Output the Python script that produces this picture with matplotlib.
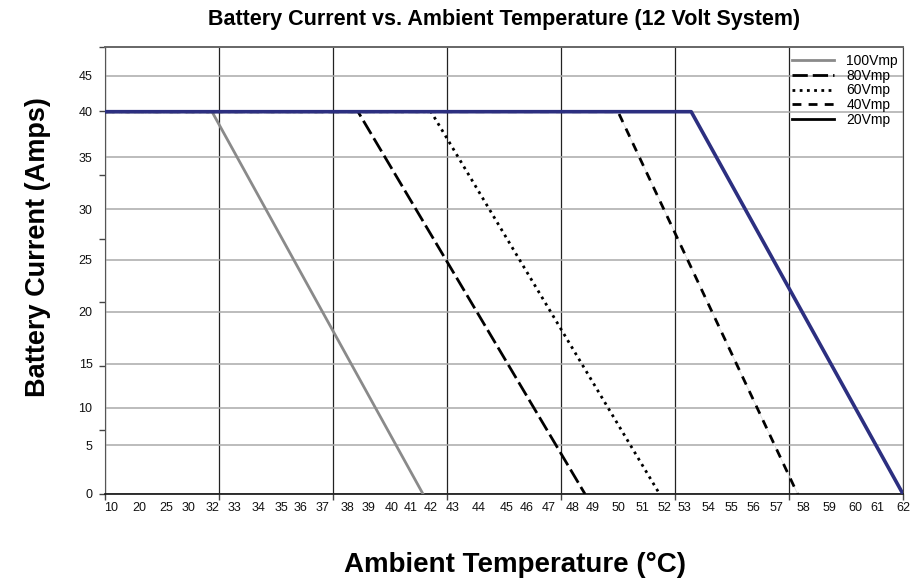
import numpy as np
import matplotlib
matplotlib.use("Agg")
import matplotlib.pyplot as plt
from matplotlib.ticker import FixedLocator, FixedFormatter, NullFormatter
from matplotlib.lines import Line2D

plt.rcParams["font.family"] = ["Liberation Sans", "DejaVu Sans"]

# ── data ─────────────────────────────────────────────────────────────
x_labels = [10, 20, 25, 30, 32, 33, 34, 35, 36, 37, 38, 39, 40, 41, 42, 43,
            44, 45, 46, 47, 48, 49, 50, 51, 52, 53, 54, 55, 56, 57, 58, 59,
            60, 61, 62]
y_labels = [0, 5, 10, 15, 20, 25, 30, 35, 40, 45]

series = ["100Vmp", "80Vmp", "60Vmp", "40Vmp", "20Vmp"]
temp_knee = [32.0, 38.5, 42.0, 50.0, 53.3]   # °C where derating starts
temp_zero = [41.6, 48.6, 51.8, 57.8, 62.0]   # °C where current reaches 0
current_max = 40.0

# ── the original axes are not linear: where each printed label sits ──
# (distance along the axis, in pixels of the original picture)
x_len, y_len = 798.0, 447.0
x_label_at = [6, 34, 61, 84, 107, 129, 153, 176, 195, 218, 242, 264, 287,
              306, 326, 348, 374, 402, 422, 444, 468, 488, 513, 537, 559,
              579, 603, 626, 648, 671, 698, 724, 750, 772, 798]
y_label_at = [0, 49, 86, 130.3, 182, 234, 285, 336.7, 382.3, 418.3]


def piecewise(vals, pos):
    vals = np.asarray(vals, float)
    pos = np.asarray(pos, float)

    def lin(v, a, b):
        v = np.asarray(v, float)
        out = np.interp(v, a, b)
        lo = (b[1] - b[0]) / (a[1] - a[0])
        hi = (b[-1] - b[-2]) / (a[-1] - a[-2])
        out = np.where(v < a[0], b[0] + (v - a[0]) * lo, out)
        out = np.where(v > a[-1], b[-1] + (v - a[-1]) * hi, out)
        return out

    return (lambda v: lin(v, vals, pos)), (lambda p: lin(p, pos, vals))


fx, ix = piecewise(x_labels, x_label_at)
fy, iy = piecewise(y_labels, y_label_at)

fig = plt.figure(figsize=(9.11, 5.79), dpi=100, facecolor="white")
ax = fig.add_axes([105 / 911, 1 - 494 / 579, 798 / 911, 447 / 579])
ax.set_xscale("function", functions=(fx, ix))
ax.set_yscale("function", functions=(fy, iy))

x_lo, x_hi = float(ix(0.0)), float(ix(x_len))
ax.set_xlim(x_lo, x_hi)
ax.set_ylim(float(iy(0.0)), float(iy(y_len)))

styles = [
    dict(color="#8a8a8a", linestyle="-"),
    dict(color="black", linestyle=(0, (5.5, 1.8))),
    dict(color="black", linestyle=(0, (1.0, 1.6))),
    dict(color="black", linestyle=(0, (3.2, 2.6))),
    dict(color="#2c2f80", linestyle="-"),
]

for name, k, z, st in zip(series, temp_knee, temp_zero, styles):
    xs = [x_lo, k, z]
    ys = [current_max, current_max, 0]
    if name == "20Vmp":
        ax.plot(xs, ys, lw=2.6, zorder=5, **st)
        continue
    if name == "40Vmp":
        ax.plot(xs, ys, color="#dddddd", lw=0.6, zorder=3)
    ax.plot(xs, ys, lw=2.0, zorder=4, **st)

# ── ticks, labels and grid ───────────────────────────────────────────
for axis in (ax.xaxis, ax.yaxis):
    axis.remove_overlapping_locs = False

ax.xaxis.set_major_locator(FixedLocator(ix(np.linspace(0, x_len, 8))))
ax.xaxis.set_major_formatter(NullFormatter())
ax.xaxis.set_minor_locator(FixedLocator(x_labels))
ax.xaxis.set_minor_formatter(FixedFormatter([str(v) for v in x_labels]))

ax.yaxis.set_major_locator(FixedLocator(iy(np.linspace(0, y_len, 8))))
ax.yaxis.set_major_formatter(NullFormatter())
ax.yaxis.set_minor_locator(FixedLocator(y_labels))
ax.yaxis.set_minor_formatter(FixedFormatter([str(v) for v in y_labels]))

ax.tick_params(which="major", length=4, width=1, color="#444444", direction="out")
ax.tick_params(which="minor", length=0, labelsize=9, labelcolor="#111111")
ax.tick_params(axis="x", which="minor", pad=6)
ax.tick_params(axis="y", which="minor", pad=9)

ax.grid(True, axis="x", which="major", color="#222222", lw=0.9, zorder=1)
ax.grid(True, axis="y", which="minor", color="#aaaaaa", lw=1.1, zorder=1)
ax.set_axisbelow(True)

ax.spines["left"].set_color("#555555")
ax.spines["bottom"].set_color("#111111")
ax.spines["bottom"].set_linewidth(1.2)
ax.spines["top"].set_color("#666666")
ax.spines["top"].set_linewidth(1.4)
ax.spines["right"].set_color("#444444")

# ── legend (no frame, gridlines run through it) ──────────────────────
handles = [Line2D([], [], lw=2.0, **st) for st in styles[:4]]
handles.append(Line2D([], [], lw=2.0, color="black"))
leg = ax.legend(handles, series, loc="upper right",
                bbox_to_anchor=((898 - 105) / x_len, 1 - 7 / y_len),
                frameon=False, fontsize=10, borderpad=0, borderaxespad=0,
                handlelength=3.0, handletextpad=0.9, labelspacing=0.05)

# ── titles ───────────────────────────────────────────────────────────
fig.text(504 / 911, 1 - 19 / 579,
         "Battery Current vs. Ambient Temperature (12 Volt System)",
         ha="center", va="center", fontsize=15.5, fontweight="bold")
fig.text(38 / 911, 1 - 247 / 579, "Battery Current (Amps)", rotation=90,
         ha="center", va="center", fontsize=19.5, fontweight="bold")
fig.text(515 / 911, 1 - 565 / 579, "Ambient Temperature (°C)",
         ha="center", va="center", fontsize=20, fontweight="bold")

fig.savefig("out.png", dpi=100, facecolor="white")
